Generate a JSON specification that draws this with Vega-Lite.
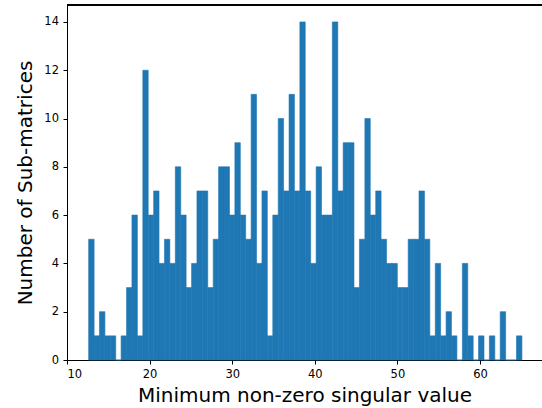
{
  "$schema": "https://vega.github.io/schema/vega-lite/v6.json",
  "width": 475,
  "height": 355,
  "autosize": "none",
  "padding": {"left": 67, "top": 5, "right": 0, "bottom": 48},
  "background": "white",
  "config": {
    "view": {"stroke": null},
    "font": "DejaVu Sans",
    "axis": {
      "domainColor": "black",
      "domainWidth": 1,
      "tickColor": "black",
      "tickSize": 4,
      "tickWidth": 1,
      "labelFont": "DejaVu Sans",
      "labelFontSize": 11.5,
      "labelColor": "black",
      "labelPadding": 4.5,
      "titleFont": "DejaVu Sans",
      "titleFontSize": 20,
      "titleFontWeight": "normal",
      "titleColor": "black",
      "grid": false
    }
  },
  "data": {
    "values": [
      {"lo": 12.62, "hi": 13.28, "n": 5},
      {"lo": 13.28, "hi": 13.93, "n": 1},
      {"lo": 13.93, "hi": 14.59, "n": 2},
      {"lo": 14.59, "hi": 15.24, "n": 1},
      {"lo": 15.24, "hi": 15.90, "n": 1},
      {"lo": 15.90, "hi": 16.55, "n": 0},
      {"lo": 16.55, "hi": 17.21, "n": 1},
      {"lo": 17.21, "hi": 17.86, "n": 3},
      {"lo": 17.86, "hi": 18.52, "n": 6},
      {"lo": 18.52, "hi": 19.18, "n": 1},
      {"lo": 19.18, "hi": 19.83, "n": 12},
      {"lo": 19.83, "hi": 20.49, "n": 6},
      {"lo": 20.49, "hi": 21.14, "n": 7},
      {"lo": 21.14, "hi": 21.80, "n": 4},
      {"lo": 21.80, "hi": 22.45, "n": 5},
      {"lo": 22.45, "hi": 23.11, "n": 4},
      {"lo": 23.11, "hi": 23.77, "n": 8},
      {"lo": 23.77, "hi": 24.42, "n": 6},
      {"lo": 24.42, "hi": 25.08, "n": 3},
      {"lo": 25.08, "hi": 25.73, "n": 4},
      {"lo": 25.73, "hi": 26.39, "n": 7},
      {"lo": 26.39, "hi": 27.04, "n": 7},
      {"lo": 27.04, "hi": 27.70, "n": 3},
      {"lo": 27.70, "hi": 28.35, "n": 5},
      {"lo": 28.35, "hi": 29.01, "n": 8},
      {"lo": 29.01, "hi": 29.67, "n": 8},
      {"lo": 29.67, "hi": 30.32, "n": 6},
      {"lo": 30.32, "hi": 30.98, "n": 9},
      {"lo": 30.98, "hi": 31.63, "n": 6},
      {"lo": 31.63, "hi": 32.29, "n": 5},
      {"lo": 32.29, "hi": 32.94, "n": 11},
      {"lo": 32.94, "hi": 33.60, "n": 4},
      {"lo": 33.60, "hi": 34.25, "n": 7},
      {"lo": 34.25, "hi": 34.91, "n": 1},
      {"lo": 34.91, "hi": 35.57, "n": 6},
      {"lo": 35.57, "hi": 36.22, "n": 10},
      {"lo": 36.22, "hi": 36.88, "n": 7},
      {"lo": 36.88, "hi": 37.53, "n": 11},
      {"lo": 37.53, "hi": 38.19, "n": 7},
      {"lo": 38.19, "hi": 38.84, "n": 14},
      {"lo": 38.84, "hi": 39.50, "n": 7},
      {"lo": 39.50, "hi": 40.16, "n": 4},
      {"lo": 40.16, "hi": 40.81, "n": 8},
      {"lo": 40.81, "hi": 41.47, "n": 6},
      {"lo": 41.47, "hi": 42.12, "n": 6},
      {"lo": 42.12, "hi": 42.78, "n": 14},
      {"lo": 42.78, "hi": 43.43, "n": 7},
      {"lo": 43.43, "hi": 44.09, "n": 9},
      {"lo": 44.09, "hi": 44.74, "n": 9},
      {"lo": 44.74, "hi": 45.40, "n": 3},
      {"lo": 45.40, "hi": 46.06, "n": 5},
      {"lo": 46.06, "hi": 46.71, "n": 10},
      {"lo": 46.71, "hi": 47.37, "n": 6},
      {"lo": 47.37, "hi": 48.02, "n": 7},
      {"lo": 48.02, "hi": 48.68, "n": 5},
      {"lo": 48.68, "hi": 49.33, "n": 4},
      {"lo": 49.33, "hi": 49.99, "n": 4},
      {"lo": 49.99, "hi": 50.64, "n": 3},
      {"lo": 50.64, "hi": 51.30, "n": 3},
      {"lo": 51.30, "hi": 51.96, "n": 5},
      {"lo": 51.96, "hi": 52.61, "n": 5},
      {"lo": 52.61, "hi": 53.27, "n": 7},
      {"lo": 53.27, "hi": 53.92, "n": 5},
      {"lo": 53.92, "hi": 54.58, "n": 1},
      {"lo": 54.58, "hi": 55.23, "n": 4},
      {"lo": 55.23, "hi": 55.89, "n": 1},
      {"lo": 55.89, "hi": 56.54, "n": 2},
      {"lo": 56.54, "hi": 57.20, "n": 1},
      {"lo": 57.20, "hi": 57.86, "n": 0},
      {"lo": 57.86, "hi": 58.51, "n": 4},
      {"lo": 58.51, "hi": 59.17, "n": 1},
      {"lo": 59.17, "hi": 59.82, "n": 0},
      {"lo": 59.82, "hi": 60.48, "n": 1},
      {"lo": 60.48, "hi": 61.13, "n": 0},
      {"lo": 61.13, "hi": 61.79, "n": 1},
      {"lo": 61.79, "hi": 62.44, "n": 0},
      {"lo": 62.44, "hi": 63.10, "n": 2},
      {"lo": 63.10, "hi": 63.76, "n": 0},
      {"lo": 63.76, "hi": 64.41, "n": 0},
      {"lo": 64.41, "hi": 65.07, "n": 1}
    ]
  },
  "layer": [
    {
      "mark": {"type": "bar", "color": "#1f77b4", "cornerRadius": 0, "stroke": "#1f77b4", "strokeWidth": 0.6},
      "encoding": {
        "x": {
          "field": "lo",
          "type": "quantitative",
          "scale": {"domain": [10, 67.5], "nice": false, "zero": false},
          "axis": {"values": [10, 20, 30, 40, 50, 60], "title": "Minimum non-zero singular value", "titlePadding": 5}
        },
        "x2": {"field": "hi"},
        "y": {
          "field": "n",
          "type": "quantitative",
          "scale": {"domain": [0, 14.7], "nice": false},
          "axis": {"values": [0, 2, 4, 6, 8, 10, 12, 14], "title": "Number of Sub-matrices", "titlePadding": 8}
        },
        "y2": {"datum": 0}
      }
    },
    {
      "mark": {"type": "rule", "color": "black", "strokeWidth": 1},
      "encoding": {"y": {"datum": 14.7, "type": "quantitative"}}
    }
  ]
}
